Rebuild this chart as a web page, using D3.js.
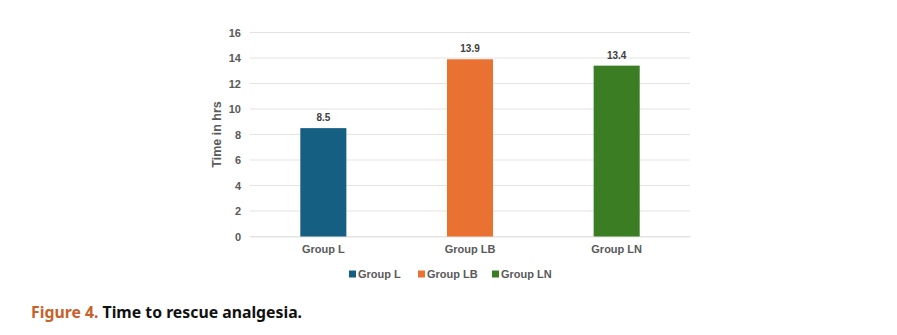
<!DOCTYPE html>
<html><head><meta charset="utf-8">
<script src="https://cdn.jsdelivr.net/npm/d3@7"></script>
<style>body{margin:0;background:#fff;} svg{display:block;}</style>
</head><body>
<script>
const categories = ["Group L", "Group LB", "Group LN"];
const values = [8.5, 13.9, 13.4];
const colors = ["#156082", "#E97132", "#3B7D23"];
const yTicks = [0, 2, 4, 6, 8, 10, 12, 14, 16];
const yTitle = "Time in hrs";
const captionLead = "Figure 4.";
const captionText = " Time to rescue analgesia.";

const W = 897, H = 335;
const svg = d3.select("body").append("svg").attr("width", W).attr("height", H);
const pLeft = 250, pRight = 690, pTop = 32.5, pBottom = 236.5;
const x = d3.scaleBand().domain(categories).range([pLeft, pRight]).paddingInner(0.686).paddingOuter(0.343);
const y = d3.scaleLinear().domain([0, 16]).range([pBottom, pTop]);
const font = "Liberation Sans, Arial, sans-serif";
const grey = "#595959";

// gridlines
svg.append("g").selectAll("line").data(yTicks).join("line")
  .attr("x1", pLeft).attr("x2", pRight)
  .attr("y1", d => y(d)).attr("y2", d => y(d))
  .attr("stroke", "#e3e3e3").attr("stroke-width", 1);

// y axis labels
const yAxis = svg.append("g").attr("transform", `translate(${pLeft},0)`)
  .call(d3.axisLeft(y).tickValues(yTicks).tickSize(0).tickPadding(9));
yAxis.select(".domain").remove();
yAxis.selectAll("text").attr("font-family", font).attr("font-size", 11).attr("font-weight", "bold").attr("fill", grey);

// x axis labels
const xAxis = svg.append("g").attr("transform", `translate(0,${pBottom})`)
  .call(d3.axisBottom(x).tickSize(0).tickPadding(9));
xAxis.select(".domain").attr("stroke", "#e3e3e3");
xAxis.selectAll("text").attr("font-family", font).attr("font-size", 11).attr("font-weight", "bold").attr("fill", grey);

// bars
svg.append("g").selectAll("rect").data(values).join("rect")
  .attr("x", (d, i) => x(categories[i])).attr("width", x.bandwidth())
  .attr("y", d => y(d)).attr("height", d => y(0) - y(d))
  .attr("fill", (d, i) => colors[i]);

// data labels
svg.append("g").selectAll("text").data(values).join("text")
  .attr("x", (d, i) => x(categories[i]) + x.bandwidth() / 2)
  .attr("y", d => y(d) - 7)
  .attr("text-anchor", "middle")
  .attr("font-family", font).attr("font-size", 10).attr("font-weight", "bold").attr("fill", "#404040")
  .text(d => d.toFixed(1));

// y title
svg.append("text")
  .attr("transform", `translate(221,${(pTop + pBottom) / 2}) rotate(-90)`)
  .attr("text-anchor", "middle")
  .attr("font-family", font).attr("font-size", 12.5).attr("font-weight", "bold").attr("fill", grey)
  .text(yTitle);

// legend
const legendX = [349, 418, 492];
const lg = svg.append("g");
categories.forEach((c, i) => {
  lg.append("rect").attr("x", legendX[i]).attr("y", 270.5).attr("width", 7).attr("height", 7).attr("fill", colors[i]);
  lg.append("text").attr("x", legendX[i] + 9).attr("y", 278)
    .attr("font-family", font).attr("font-size", 11).attr("font-weight", "bold").attr("fill", grey).text(c);
});

// caption
const cap = svg.append("text").attr("x", 31).attr("y", 318)
  .attr("font-family", "Noto Sans, Open Sans, sans-serif").attr("font-size", 15.8).attr("font-weight", "bold");
cap.append("tspan").attr("fill", "#C8602A").text(captionLead);
cap.append("tspan").attr("fill", "#111").text(captionText);
</script>
</body></html>
